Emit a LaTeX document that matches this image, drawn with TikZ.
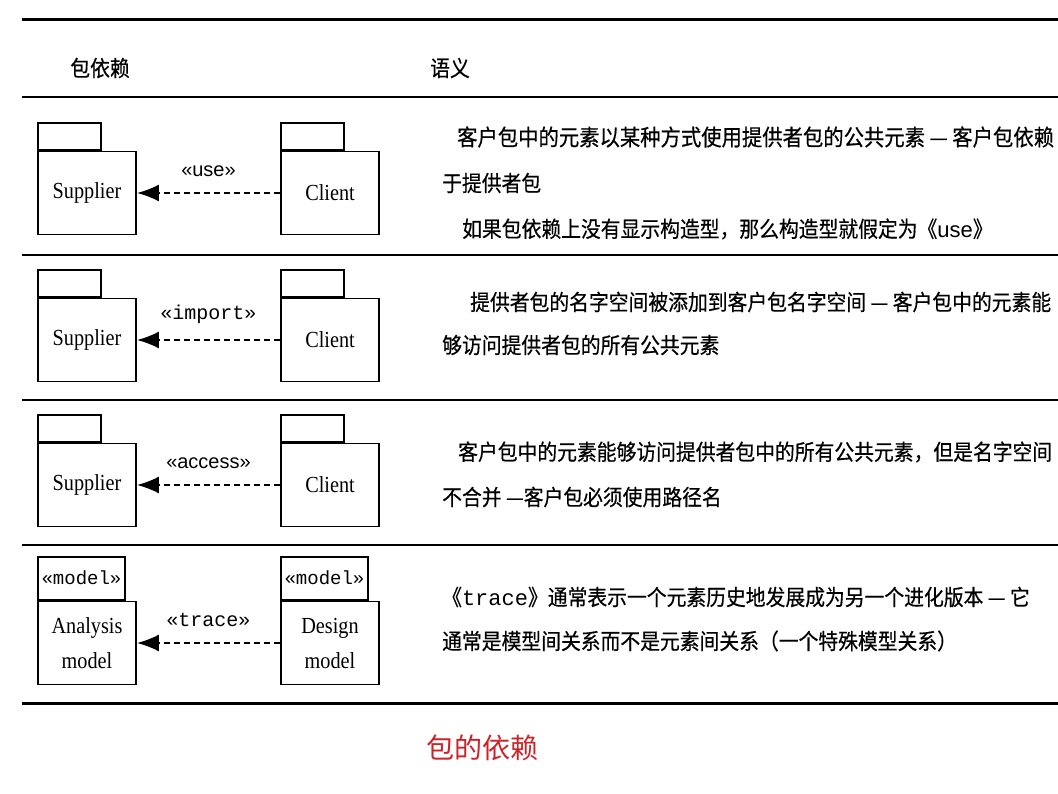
\documentclass[tikz,border=0pt]{standalone}
\usepackage{fontspec}
\setmainfont[FakeStretch=0.88]{Liberation Serif}
\setsansfont{Liberation Sans}
\setmonofont{Liberation Mono}
\newfontfamily\cjk[FakeStretch=0.9,FakeBold=0.5]{Noto Sans CJK SC}
\newfontfamily\capfont{Noto Sans CJK SC}
\usetikzlibrary{arrows.meta,positioning}
\definecolor{capred}{RGB}{205,35,40}
\tikzset{
  rule/.style={line width=2.6pt},
  pkgbody/.style={draw,line width=1.8pt,minimum width=98pt,minimum height=83pt,
    inner sep=0pt,align=center,font=\fontsize{23}{35}\selectfont},
  pkgtab/.style={draw,line width=1.8pt,minimum width=63pt,minimum height=27pt,
    inner sep=0pt,anchor=south west},
  modeltab/.style={pkgtab,minimum width=87pt,minimum height=43pt,
    font=\ttfamily\fontsize{19}{21}\selectfont},
  dep/.style={line width=2pt,dash pattern=on 6pt off 4pt,
    -{Latex[length=22pt,width=17pt]}},
  stereo/.style={above=12pt,font=\fontsize{20}{22}\selectfont},
  sem/.style={anchor=west,inner sep=0pt,font=\cjk\fontsize{22}{24}\selectfont}
}
\begin{document}
\begin{tikzpicture}[x=1pt,y=-1pt]
\useasboundingbox (0,0) rectangle (1058,794);
% table rules
\draw[rule,line width=3pt] (22,20) -- (1058,20);
\foreach \y in {97,255,400,545}
  \draw[rule] (22,\y) -- (1058,\y);
\draw[rule,line width=3pt] (22,703) -- (1058,703);
% header
\node[sem,anchor=center] (hdrdep) at (100,68) {包依赖};
\node[sem,anchor=center] (hdrsem) at (450,68) {语义};

% supplier / client rows
\foreach \r/\y/\st in {1/193/{\sffamily «use»},2/340/{\ttfamily «import»},3/485/{\sffamily «access»}} {
  \node[pkgbody] (sup\r) at (87,\y) {Supplier};
  \node[pkgtab] (tabs\r) at (sup\r.north west) {};
  \node[pkgbody] (cli\r) at (330,\y) {Client};
  \node[pkgtab] (tabc\r) at (cli\r.north west) {};
  \draw[dep] (cli\r.west) -- node[stereo] {\st} (sup\r.east);
}

% model row
\node[pkgbody] (ana) at (87,643) {Analysis\\model};
\node[modeltab] (tabana) at (ana.north west) {«model»};
\node[pkgbody] (des) at (330,643) {Design\\model};
\node[modeltab] (tabdes) at (des.north west) {«model»};
\draw[dep] (des.west) -- node[stereo] {\ttfamily «trace»} (ana.east);

% semantics
\node[sem,font=\cjk\fontsize{22.6}{24}\selectfont] (sem1a) at (457,137) {客户包中的元素以某种方式使用提供者包的公共元素 — 客户包依赖};
\node[sem] (sem1b) at (442,183) {于提供者包};
\node[sem] (sem1c) at (462,229) {如果包依赖上没有显示构造型，那么构造型就假定为《{\sffamily use}》};
\node[sem] (sem2a) at (470,302) {提供者包的名字空间被添加到客户包名字空间 — 客户包中的元素能};
\node[sem] (sem2b) at (442,345) {够访问提供者包的所有公共元素};
\node[sem] (sem3a) at (458,452) {客户包中的元素能够访问提供者包中的所有公共元素，但是名字空间};
\node[sem] (sem3b) at (442,497) {不合并 —客户包必须使用路径名};
\node[sem] (sem4a) at (442,597) {《{\ttfamily trace}》通常表示一个元素历史地发展成为另一个进化版本 — 它};
\node[sem] (sem4b) at (442,641) {通常是模型间关系而不是元素间关系（一个特殊模型关系）};

% caption
\node[font=\capfont\fontsize{28}{30}\selectfont,text=capred] (caption) at (482,748) {包的依赖};
\end{tikzpicture}
\end{document}
